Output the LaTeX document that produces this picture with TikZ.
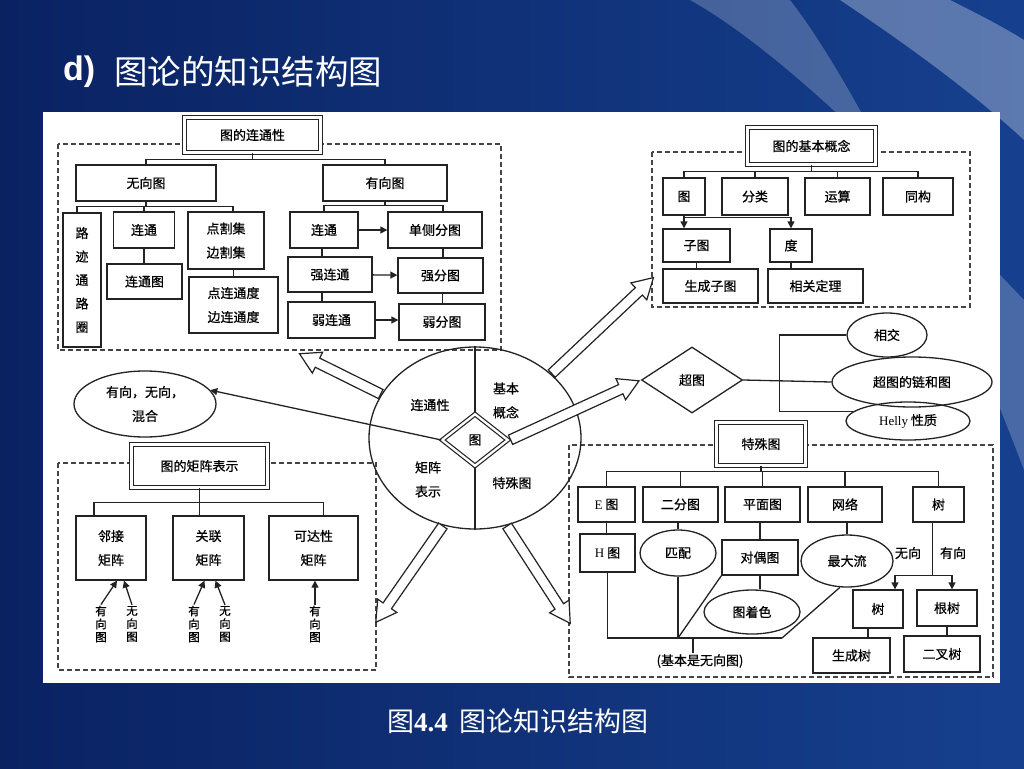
\documentclass[tikz,border=0pt]{standalone}
\usepackage{fontspec}
\setmainfont{Liberation Sans}
\newfontfamily\cjk{Noto Sans CJK SC}
\newfontfamily\cjkd[FakeBold=0.6]{Noto Sans CJK SC}
\newfontfamily\capserif{Liberation Serif}
\usetikzlibrary{arrows.meta,shapes.geometric,shapes.arrows,calc,positioning}
\definecolor{ink}{RGB}{35,35,35}
\definecolor{bgdark}{RGB}{10,34,98}
\definecolor{bgmid}{RGB}{22,64,142}

\begin{document}
\begin{tikzpicture}[x=1pt,y=-1pt]
\tikzstyle{plainbox}=[draw=ink, line width=1.3pt, inner sep=0pt, align=center, font=\cjkd\fontsize{13}{15}\selectfont]
\tikzstyle{dblbox}=[plainbox, fill=white, double, double distance=2.3pt, line width=1.2pt]
\tikzstyle{ovalbox}=[plainbox, ellipse]
\tikzstyle{twoline}=[font=\cjkd\fontsize{13}{24}\selectfont]
\tikzstyle{txt}=[inner sep=1pt, align=center, font=\cjkd\fontsize{13}{15}\selectfont]
\tikzstyle{vtxt}=[inner sep=1pt, align=center, font=\cjkd\fontsize{11.5}{13}\selectfont]
\tikzstyle{dashframe}=[draw=ink!85, line width=1.3pt, dash pattern=on 5pt off 3pt]
\tikzstyle{wire}=[draw=ink, line width=1.3pt]
\tikzstyle{tipwire}=[wire, -{Triangle[length=7pt,width=7pt]}]
\tikzstyle{fatarrow}=[draw=ink, fill=white, line width=1.2pt, single arrow, single arrow head extend=6.5pt, single arrow tip angle=60, inner sep=4.5pt]

\useasboundingbox (0,0) rectangle (1024,768);
% background
\fill[left color=bgdark, right color=bgmid] (0,0) rectangle (1024,768);
\fill[white, opacity=0.22] (690,0) .. controls (780,50) and (900,170) .. (1024,300) -- (1024,470) .. controls (960,300) and (860,90) .. (790,0) -- cycle;
\fill[white, opacity=0.3] (840,0) .. controls (900,40) and (970,90) .. (1024,140) -- (1024,40) .. controls (1000,25) and (970,10) .. (950,0) -- cycle;
\fill[white] (43,112) rectangle (1000,683);

\node[anchor=west, text=white, inner sep=0pt, font=\bfseries\fontsize{34}{40}\selectfont] (tag) at (63,72) {d)};
\node[anchor=west, text=white, inner sep=0pt, font=\cjk\fontsize{33.5}{40}\selectfont] (heading) at (114,72) {图论的知识结构图};
\node[text=white, inner sep=0pt, font=\cjk\fontsize{27}{32}\selectfont] (caption) at (518,721) {图{\capserif\bfseries 4.4}\hspace{12pt}图论知识结构图};

% connectivity
\draw[dashframe] (58,144) rectangle (501,350);
\node[dblbox, minimum width=136, minimum height=35] (conn) at (252.5,135) {图的连通性};
\node[plainbox, minimum width=140, minimum height=36] (undir) at (146,183) {无向图};
\node[plainbox, minimum width=124, minimum height=36] (dir) at (385,183) {有向图};
\node[plainbox, minimum width=38, minimum height=134, font=\cjkd\fontsize{13}{23.5}\selectfont] (walk) at (82,280) {路\\迹\\通\\路\\圈};
\node[plainbox, minimum width=61, minimum height=36] (uconn) at (144,230) {连通};
\node[plainbox, minimum width=75, minimum height=35] (ugraph) at (144.5,281.5) {连通图};
\node[plainbox, twoline, minimum width=76, minimum height=57] (cutset) at (226,240.5) {点割集\\边割集};
\node[plainbox, twoline, minimum width=89, minimum height=56] (cdeg) at (233.5,305) {点连通度\\边连通度};
\node[plainbox, minimum width=68, minimum height=36] (dconn) at (324,230) {连通};
\node[plainbox, minimum width=94, minimum height=36] (unil) at (435,230) {单侧分图};
\node[plainbox, minimum width=84, minimum height=35] (sconn) at (330,274.5) {强连通};
\node[plainbox, minimum width=85, minimum height=35] (scomp) at (440.5,275.5) {强分图};
\node[plainbox, minimum width=87, minimum height=36] (wconn) at (331.5,320) {弱连通};
\node[plainbox, minimum width=86, minimum height=36] (wcomp) at (442,322) {弱分图};

\draw[wire] (undir.north) -- ++(0,-5) coordinate (j1) -| (dir.north);
\draw[wire] (conn.south) -- (conn.south |- j1);
\draw[wire] ([xshift=-5pt]walk.north) -- ++(0,-6) coordinate (j2) -| ([xshift=7pt]cutset.north);
\draw[wire] (undir.south) -- (undir.south |- j2);
\draw[wire] (uconn.north) -- (uconn.north |- j2);
\draw[wire] (uconn.south) -- (uconn.south |- ugraph.north);
\draw[wire] (cdeg.north |- cutset.south) -- (cdeg.north);
\draw[wire] (dconn.north) -- ++(0,-6) coordinate (j3) -| ([xshift=8pt]unil.north);
\draw[wire] (dir.south) -- (dir.south |- j3);
\draw[wire] ([xshift=-2pt]dconn.south) -- ([xshift=-2pt]dconn.south |- sconn.north);
\draw[wire] ([xshift=-8pt]sconn.south) -- ([xshift=-8pt]sconn.south |- wconn.north);
\draw[wire] ([xshift=8pt]unil.south) -- ([xshift=8pt]unil.south |- scomp.north);
\draw[wire] ([xshift=2pt]scomp.south) -- ([xshift=2pt]scomp.south |- wcomp.north);
\draw[tipwire] (dconn) -- (unil);
\draw[tipwire] (sconn) -- (scomp);
\draw[tipwire] (wconn.east) -- (wconn.east -| wcomp.west);

% basic concepts
\draw[dashframe] (652,152) rectangle (970,307);
\node[dblbox, minimum width=128, minimum height=37] (basic) at (811.5,146) {图的基本概念};
\node[plainbox, minimum width=42, minimum height=37] (gr) at (684,196.5) {图};
\node[plainbox, minimum width=66, minimum height=37] (class) at (755,196.5) {分类};
\node[plainbox, minimum width=65, minimum height=37] (oper) at (837.5,196.5) {运算};
\node[plainbox, minimum width=70, minimum height=37] (iso) at (918,196.5) {同构};
\node[plainbox, minimum width=67, minimum height=33] (sub) at (696.5,245.5) {子图};
\node[plainbox, minimum width=42, minimum height=33] (deg) at (791,245.5) {度};
\node[plainbox, minimum width=95, minimum height=34] (span) at (710.5,286) {生成子图};
\node[plainbox, minimum width=95, minimum height=34] (thm) at (815.5,286) {相关定理};

\draw[wire] (gr.north) -- ++(0,-6) coordinate (j4) -| (iso.north);
\draw[wire] (basic.south) -- (basic.south |- j4);
\draw[wire] (class.north) -- (class.north |- j4);
\draw[wire] (oper.north) -- (oper.north |- j4);
\draw[tipwire] (gr.south) -- (gr.south |- sub.north);
\draw[tipwire] ([yshift=-2pt]gr.south) -| (deg.north);
\draw[wire] (sub.south) -- (sub.south |- span.north);
\draw[wire] (deg.south) -- (deg.south |- thm.north);

% hypergraph
\node[plainbox, diamond, minimum width=101, minimum height=66] (hyper) at (692,380) {超图};
\node[ovalbox, minimum width=80, minimum height=44] (inter) at (887,335) {相交};
\node[ovalbox, minimum width=160, minimum height=50] (joint) at (912,382) {超图的链和图};
\node[ovalbox, minimum width=124, minimum height=38] (helly) at (908,421) {{\capserif Helly} 性质};
\draw[wire] (hyper.east) -- (joint.west);
\draw[wire] (inter.west) -- ++(-67,0) |- (helly.170);

% special graphs
\draw[dashframe] (569,445) rectangle (993,677);
\node[dblbox, minimum width=89, minimum height=43] (special) at (761,444) {特殊图};
\node[plainbox, minimum width=57, minimum height=35] (euler) at (606.5,504.5) {{\capserif E} 图};
\node[plainbox, minimum width=75, minimum height=35] (bip) at (680.5,504.5) {二分图};
\node[plainbox, minimum width=75, minimum height=35] (plan) at (762.5,504.5) {平面图};
\node[plainbox, minimum width=74, minimum height=35] (net) at (845,504.5) {网络};
\node[plainbox, minimum width=51, minimum height=35] (tree) at (938.5,504.5) {树};
\node[plainbox, minimum width=55, minimum height=38] (ham) at (607.5,553) {{\capserif H} 图};
\node[ovalbox, minimum width=76, minimum height=46] (match) at (678,553) {匹配};
\node[plainbox, minimum width=76, minimum height=35] (dual) at (760,557.5) {对偶图};
\node[ovalbox, minimum width=92, minimum height=52] (flow) at (847,561) {最大流};
\node[ovalbox, minimum width=96, minimum height=44] (colr) at (752,612) {图着色};
\node[txt] (base) at (700,661) {(基本是无向图)};
\node[txt] (undirl) at (908,553) {无向};
\node[txt] (dirl) at (953,553) {有向};
\node[plainbox, minimum width=50, minimum height=38] (utree) at (878,609) {树};
\node[plainbox, minimum width=60, minimum height=36] (root) at (947,608) {根树};
\node[plainbox, minimum width=77, minimum height=35] (spant) at (851.5,655.5) {生成树};
\node[plainbox, minimum width=76, minimum height=36] (bint) at (942,654) {二叉树};
\coordinate (fl) at (782,638);

\draw[wire] (euler.north) -- ++(0,-15) coordinate (j5) -| (tree.north);
\draw[wire] (special.south) -- (special.south |- j5);
\draw[wire] (bip.north) -- (bip.north |- j5);
\draw[wire] (plan.north) -- (plan.north |- j5);
\draw[wire] (net.north) -- (net.north |- j5);
\draw[wire] (euler.south) -- (euler.south |- ham.north);
\draw[wire] (match.north |- bip.south) -- (match.north);
\draw[wire] (dual.north |- plan.south) -- (dual.north);
\draw[wire] (flow.north |- net.south) -- (flow.north);
\draw[wire] (dual.south) -- (dual.south |- colr.north);
\draw[wire] (ham.south) |- (fl);
\draw[wire] (flow.255) -- (fl);
\draw[wire] (match.south) -- (match.south |- fl);
\draw[wire] (dual.south west) -- (match.south |- fl);
\draw[wire] ([xshift=-7pt]base.north |- fl) -- ([xshift=-7pt]base.north);
\draw[wire] ([xshift=-6pt]tree.south) -- ++(0,53) coordinate (j6);
\draw[tipwire] (j6) -| ([xshift=17pt]utree.north);
\draw[tipwire] (j6) -| ([xshift=5pt]root.north);
\draw[wire] ([xshift=-10pt]utree.south) -- ([xshift=-10pt]utree.south |- spant.north);
\draw[wire] (root.south) -- (root.south |- bint.north);

% matrix representation
\node[ovalbox, twoline, minimum width=142, minimum height=66] (mix) at (145,404) {有向，无向，\\混合};
\draw[dashframe] (58,463) rectangle (376,670);
\node[dblbox, minimum width=136, minimum height=43] (mtitle) at (199.5,466) {图的矩阵表示};
\node[plainbox, twoline, minimum width=70, minimum height=64] (adj) at (111,548) {邻接\\矩阵};
\node[plainbox, twoline, minimum width=71, minimum height=64] (inc) at (208.5,548) {关联\\矩阵};
\node[plainbox, twoline, minimum width=89, minimum height=64] (reach) at (313.5,548) {可达性\\矩阵};
\node[vtxt] (ad1) at (101,624) {有\\向\\图};
\node[vtxt] (ad2) at (132,624) {无\\向\\图};
\node[vtxt] (in1) at (194,624) {有\\向\\图};
\node[vtxt] (in2) at (225,624) {无\\向\\图};
\node[vtxt] (re1) at (315,624) {有\\向\\图};

\draw[wire] ([xshift=-17pt]adj.north) -- ++(0,-13) coordinate (j7) -| ([xshift=10pt]reach.north);
\draw[wire] (mtitle.south) -- (mtitle.south |- j7);
\draw[wire] ([xshift=-9pt]inc.north) -- ([xshift=-9pt]inc.north |- j7);
\draw[tipwire] (ad1.north) -- ([xshift=6pt]adj.south);
\draw[tipwire] (ad2.north) -- ([xshift=13pt]adj.south);
\draw[tipwire] (in1.north) -- ([xshift=-4pt]inc.south);
\draw[tipwire] (in2.north) -- ([xshift=7pt]inc.south);
\draw[tipwire] (re1.north) -- (re1.north |- reach.south);

% the hub
\node[plainbox, ellipse, minimum width=212, minimum height=182] (hub) at (475,438) {};
\node[txt] (sec1) at (430,405) {连通性};
\node[txt, twoline] (sec2) at (506,400.5) {基本\\概念};
\node[txt, twoline] (sec3) at (428,479.5) {矩阵\\表示};
\node[txt] (sec4) at (512,483) {特殊图};
\coordinate (tipA) at (300,354);
\coordinate (tipB) at (653,278);
\coordinate (tipC) at (376,622);
\coordinate (tipD) at (570,623);

\path let \p1=($(tipA)-(hub.155)$), \n1={veclen(\x1,\y1)} in (hub.155) -- (tipA) node[fatarrow, pos=0, anchor=tail, sloped, allow upside down, minimum height=\n1] {};
\path let \p1=($(tipB)-(hub.40)$), \n1={veclen(\x1,\y1)} in (hub.40) -- (tipB) node[fatarrow, pos=0, anchor=tail, sloped, allow upside down, minimum height=\n1] {};
\path let \p1=($(tipC)-(hub.250)$), \n1={veclen(\x1,\y1)} in (hub.250) -- (tipC) node[fatarrow, pos=0, anchor=tail, sloped, allow upside down, minimum height=\n1] {};
\path let \p1=($(tipD)-(hub.290)$), \n1={veclen(\x1,\y1)} in (hub.290) -- (tipD) node[fatarrow, pos=0, anchor=tail, sloped, allow upside down, minimum height=\n1] {};
\path let \p1=($(hyper.west)-(475,440)$), \n1={veclen(\x1,\y1)} in (475,440) ++(35,0) -- (hyper.west) node[fatarrow, pos=0, anchor=tail, sloped, allow upside down, minimum height=\n1-35] {};

\node[dblbox, diamond, minimum width=66, minimum height=52] (core) at (475,440) {图};
\draw[wire] (hub.north) -- (core.north);
\draw[wire] (core.south) -- (hub.south);
\draw[tipwire] (core.west) -- (mix.12);
\end{tikzpicture}
\end{document}
